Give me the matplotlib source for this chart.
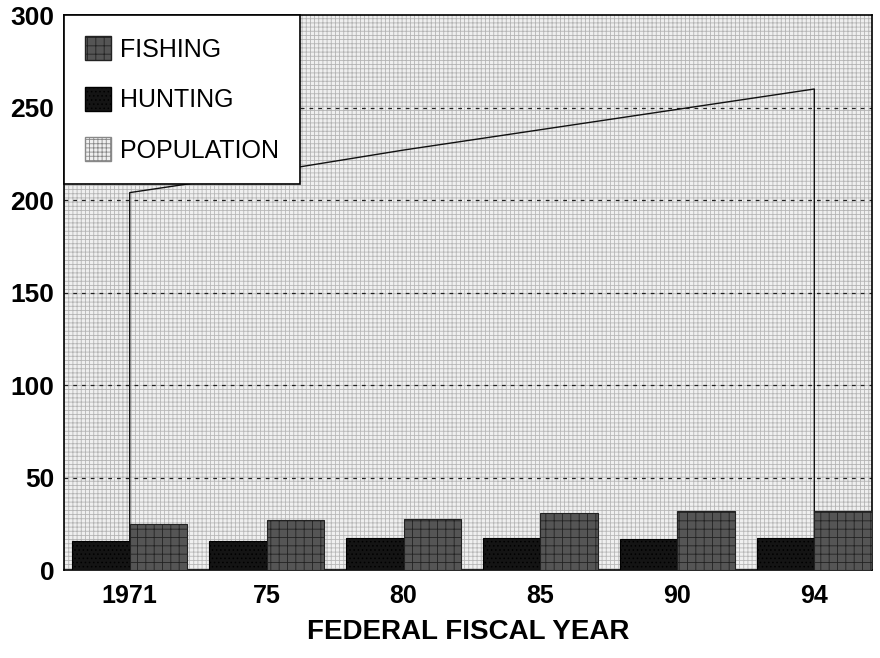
import matplotlib
matplotlib.use("Agg")
import matplotlib.pyplot as plt
from matplotlib.patches import Patch, Rectangle
import numpy as np

years = ["1971", "75", "80", "85", "90", "94"]
hunting = [15.5, 15.7, 17.3, 17.3, 16.8, 17.3]
fishing = [25.0, 27.0, 27.5, 30.6, 32.0, 31.8]
population = [204, 215, 227, 238, 249, 260]
y_ticks = [0, 50, 100, 150, 200, 250, 300]

plt.rcParams["font.family"] = ["Liberation Sans", "DejaVu Sans"]
plt.rcParams["hatch.linewidth"] = 0.6

fig = plt.figure(figsize=(8.8, 6.58), dpi=100)
ax = fig.add_axes([0.0727, 0.1337, 0.918, 0.8435])

x = np.arange(len(years))
w = 0.42

ax.set_xlim(-0.48, 5.42)
ax.set_ylim(0, 300)

# background texture
ax.set_facecolor("#efefef")
ax.add_patch(Rectangle((0, 0), 1, 1, transform=ax.transAxes, facecolor="none",
                       edgecolor="#b4b4b4", hatch="++++", linewidth=0, zorder=0))

# population area
ax.fill_between(x, population, 0, facecolor="#f0f0f0", edgecolor="#b8b8b8",
                hatch="++++", linewidth=0, zorder=1)
ax.plot(np.r_[x[0], x, x[-1]], np.r_[0, population, 0], color="#111111",
        linewidth=1.0, zorder=2)

# dotted gridlines
for yv in y_ticks[1:-1]:
    ax.axhline(yv, color="#222222", linestyle=(0, (3, 4)), linewidth=0.9, zorder=1.5)

# bars
ax.bar(x - w / 2, hunting, width=w, color="#141414", edgecolor="#000000",
       hatch="....", linewidth=0.8, zorder=3)
ax.bar(x + w / 2, fishing, width=w, color="#555555", edgecolor="#222222",
       hatch="++", linewidth=0.8, zorder=3)

ax.set_xticks(x)
ax.set_xticklabels(years)
ax.set_yticks(y_ticks)
ax.tick_params(axis="y", length=0, labelsize=19, pad=7)
ax.tick_params(axis="x", length=0, labelsize=18, pad=10)
for lbl in ax.get_xticklabels() + ax.get_yticklabels():
    lbl.set_fontweight("bold")

for side in ["left", "top", "bottom", "right"]:
    ax.spines[side].set_color("#000000")
    ax.spines[side].set_linewidth(1.2)

ax.set_xlabel("FEDERAL FISCAL YEAR", fontsize=20, fontweight="bold", labelpad=8)

handles = [
    Patch(facecolor="#555555", edgecolor="#222222", hatch="++", label="FISHING"),
    Patch(facecolor="#141414", edgecolor="#000000", hatch="....", label="HUNTING"),
    Patch(facecolor="#f0f0f0", edgecolor="#888888", hatch="++++", label="POPULATION"),
]
leg = ax.legend(handles=handles, loc="upper left", bbox_to_anchor=(0.0, 1.0),
                fontsize=18, frameon=True, fancybox=False, framealpha=1,
                edgecolor="#000000", handlelength=1.05, handleheight=1.1,
                handletextpad=0.35, labelspacing=1.0, borderpad=0.85,
                borderaxespad=0.0)
leg.get_frame().set_linewidth(1.2)
leg.set_zorder(5)

fig.savefig("out.png", dpi=100)
